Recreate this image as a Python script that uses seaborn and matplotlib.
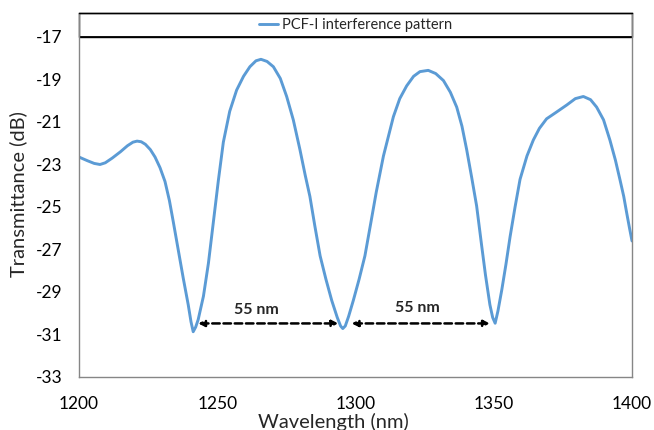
import matplotlib
matplotlib.use("Agg")
import matplotlib.pyplot as plt
import pandas as pd
import seaborn as sns
from matplotlib.patches import Rectangle


wavelength = [
    1200, 1203, 1205.5, 1207.6, 1209.5, 1212, 1215, 1217.5, 1219.5, 1221,
    1222.5, 1224, 1225.8, 1227.5, 1229.3, 1231.1, 1232.7, 1234.1, 1236, 1237.7,
    1239.5, 1240.5, 1241.3, 1242.2, 1243.1, 1245, 1246.8, 1248.6, 1250.4, 1252.2,
    1254.5, 1257, 1259.5, 1261.8, 1264, 1265.8, 1268, 1270.3, 1272.8, 1275.1,
    1277.5, 1279.9, 1281.8, 1283.5, 1285.3, 1287.2, 1289.3, 1291.4, 1293.4, 1294.6,
    1295.4, 1296.3, 1297.5, 1299.2, 1301.3, 1303.4, 1305.6, 1307.5, 1310.1, 1313.7,
    1316, 1318.5, 1321, 1323.3, 1326.3, 1329, 1331.8, 1334.3, 1336.6, 1338.5,
    1340.2, 1342, 1343.8, 1345.6, 1347, 1348.6, 1349.6, 1350.5, 1351.5, 1352.9,
    1354.4, 1355.9, 1357.7, 1359.5, 1362, 1364.3, 1366.5, 1369.1, 1372.5, 1376.4,
    1379.5, 1382.4, 1385, 1387.2, 1389.7, 1392, 1394, 1395.7, 1397, 1398.1,
    1399.1, 1400,
]
transmittance = [
    -22.65, -22.82, -22.95, -23.0, -22.92, -22.7, -22.4, -22.12, -21.95, -21.9,
    -21.93, -22.05, -22.3, -22.65, -23.15, -23.8, -24.7, -25.7, -27.1, -28.35,
    -29.6, -30.4, -30.87, -30.65, -30.3, -29.2, -27.65, -25.7, -23.75, -21.95,
    -20.5, -19.5, -18.85, -18.4, -18.12, -18.05, -18.15, -18.4, -18.95, -19.8,
    -20.9, -22.3, -23.5, -24.5, -25.9, -27.3, -28.4, -29.4, -30.2, -30.6,
    -30.72, -30.6, -30.15, -29.4, -28.4, -27.3, -25.7, -24.3, -22.6, -20.75,
    -19.9, -19.3, -18.85, -18.63, -18.57, -18.72, -19.05, -19.6, -20.3, -21.2,
    -22.3, -23.6, -24.95, -26.8, -28.2, -29.6, -30.2, -30.47, -29.9, -28.9,
    -27.7, -26.4, -25.0, -23.7, -22.6, -21.85, -21.3, -20.85, -20.55, -20.2,
    -19.9, -19.8, -19.95, -20.3, -20.9, -21.85, -22.8, -23.75, -24.5, -25.3,
    -26.0, -26.6,
]

x_ticks = [1200, 1250, 1300, 1350, 1400]
y_ticks = [-33, -31, -29, -27, -25, -23, -21, -19, -17]

# spacing arrows between the dips
arrow_y = -30.48
arrow_start = [1243.1, 1298.6]
arrow_end = [1293.8, 1348.6]
spacing_text = ["55 nm", "55 nm"]
spacing_x = [1264.2, 1322.4]
spacing_y = [-30.04, -29.93]

LINE = "#5B9BD5"
GREY = "#868686"


def main() -> None:
    sns.set_theme(style="white")
    plt.rcParams["font.family"] = ["Lato", "DejaVu Sans"]
    plt.rcParams["axes.unicode_minus"] = False

    df = pd.DataFrame({"wl": wavelength, "t": transmittance})

    fig = plt.figure(figsize=(6.54, 4.30), dpi=100)
    ax = fig.add_axes([0.1208, 0.1233, 0.8456, 0.8465])

    sns.lineplot(data=df, x="wl", y="t", color=LINE, linewidth=2.1, ax=ax,
                 label="PCF-I interference pattern", sort=False)
    for ln in ax.get_lines():
        ln.set_solid_joinstyle("round")
        ln.set_solid_capstyle("round")

    ax.set_xlim(1200, 1400)
    ax.set_ylim(-33, -15.87)
    ax.set_xticks(x_ticks)
    ax.set_yticks(y_ticks)
    ax.tick_params(axis="both", labelsize=12.5, colors="black", length=6,
                   width=1, direction="out", color=GREY)
    ax.tick_params(axis="x", pad=7.5)
    ax.tick_params(axis="y", pad=6)
    ax.set_xlabel("Wavelength (nm)", fontsize=14.5)
    ax.set_ylabel("Transmittance (dB)", fontsize=14.5)
    ax.xaxis.set_label_coords(0.46, -0.100)
    ax.yaxis.set_label_coords(-0.094, 0.503)

    for spine in ax.spines.values():
        spine.set_color(GREY)
        spine.set_linewidth(1.0)
    ax.spines["top"].set_color("black")

    # legend strip on top of the plot
    ax.axhline(-17, color="black", linewidth=1.3)
    ax.add_patch(Rectangle((0, -17), 1, 1.13, transform=ax.get_yaxis_transform(),
                           fill=False, edgecolor="black", linewidth=1.0, clip_on=False))
    ax.legend(loc="center", bbox_to_anchor=(0.5, 0.967), frameon=False,
              fontsize=10.5, handlelength=1.3, handletextpad=0.25,
              borderpad=0, borderaxespad=0)

    for x0, x1 in zip(arrow_start, arrow_end):
        ax.annotate("", xy=(x1, arrow_y), xytext=(x0, arrow_y),
                    arrowprops=dict(arrowstyle="<|-|>", linestyle=(0, (3, 1.5)),
                                    color="black", linewidth=1.8,
                                    mutation_scale=9, shrinkA=0, shrinkB=0))
    for xt, yt, txt in zip(spacing_x, spacing_y, spacing_text):
        ax.text(xt, yt, txt, ha="center", va="baseline",
                fontsize=11.5, fontweight="bold")

    fig.savefig("out.png", dpi=100, facecolor="white")
    plt.close(fig)


if __name__ == "__main__":
    main()
